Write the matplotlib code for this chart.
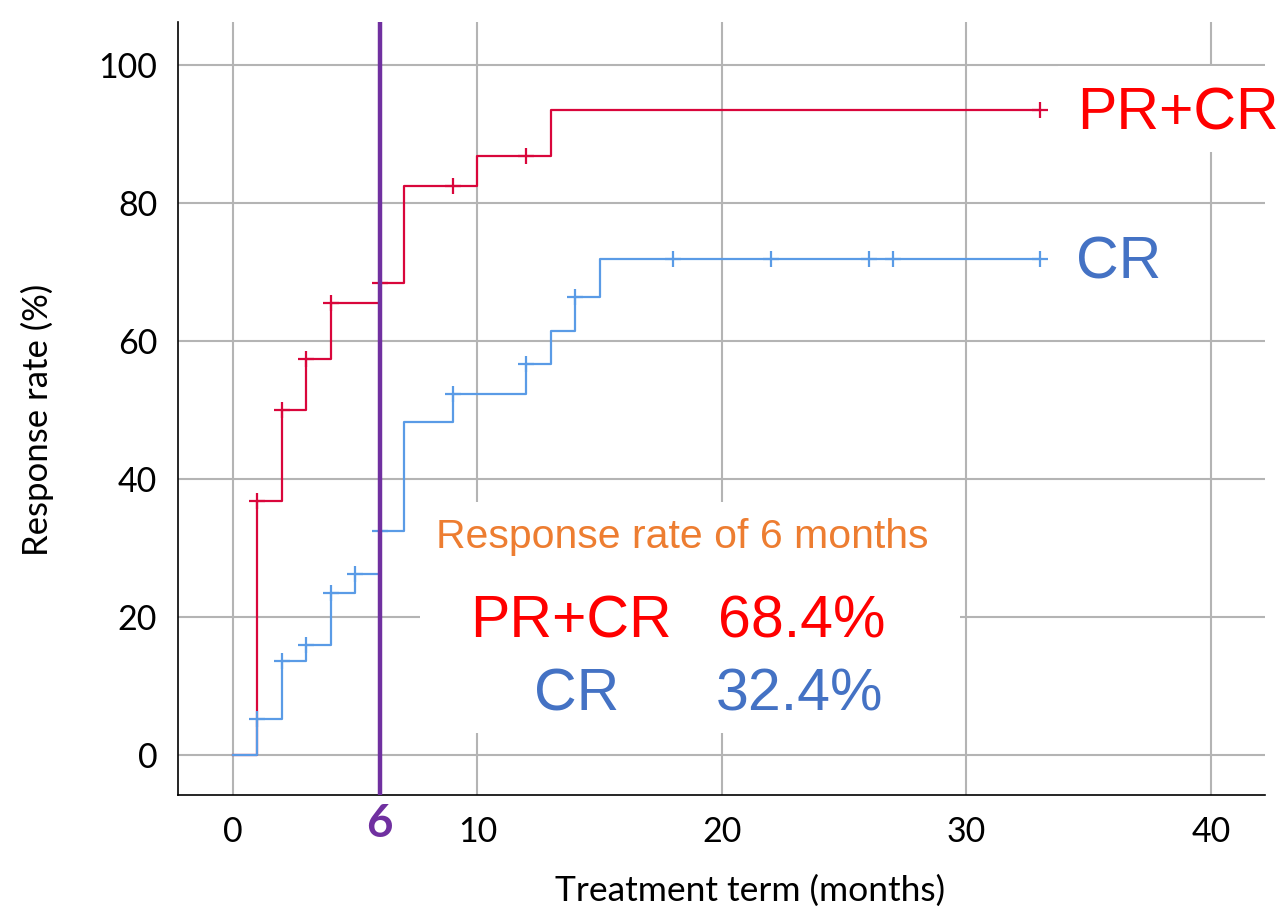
import matplotlib
matplotlib.use("Agg")
import matplotlib.pyplot as plt
from matplotlib.patches import Rectangle

# ---- data ----
pr_cr_times = [0, 1, 2, 3, 4, 6, 7, 10, 13, 33]
pr_cr_values = [0, 36.8, 50.0, 57.4, 65.5, 68.4, 82.4, 86.8, 93.4, 93.4]
pr_cr_censor_t = [1, 2, 3, 4, 6, 9, 12, 33]
pr_cr_censor_v = [36.8, 50.0, 57.4, 65.5, 68.4, 82.4, 86.8, 93.4]

cr_times = [0, 1, 2, 3, 4, 5, 6, 7, 9, 12, 13, 14, 15, 33]
cr_values = [0, 5.2, 13.6, 15.9, 23.4, 26.2, 32.4, 48.2, 52.3, 56.6, 61.5, 66.3, 71.9, 71.9]
cr_censor_t = [1, 2, 3, 4, 5, 6, 9, 12, 14, 18, 22, 26, 27, 33]
cr_censor_v = [5.2, 13.6, 15.9, 23.4, 26.2, 32.4, 52.3, 56.6, 66.3, 71.9, 71.9, 71.9, 71.9, 71.9]

x_ticks = [0, 10, 20, 30, 40]
y_ticks = [0, 20, 40, 60, 80, 100]
cutoff_month = 6
rate_pr_cr = "68.4%"
rate_cr = "32.4%"

RED_LINE = "#D9063B"
BLUE_LINE = "#5A9BE6"
RED_TXT = "#FF0000"
BLUE_TXT = "#4472C4"
ORANGE = "#ED7D31"
PURPLE = "#7030A0"
GRID = "#B4B4B4"

W, H = 1280, 910
fig = plt.figure(figsize=(12.8, 9.1), dpi=100)
ax = fig.add_axes([178 / W, 1 - 795 / H, (1265 - 178) / W, (795 - 22) / H])

ax.set_xlim(-2.25, 42.21)
ax.set_ylim(-5.8, 106.2)

ax.set_axisbelow(True)
ax.grid(True, color=GRID, linewidth=1.5)

for s in ["top", "right"]:
    ax.spines[s].set_visible(False)
for s in ["left", "bottom"]:
    ax.spines[s].set_color("black")
    ax.spines[s].set_linewidth(1.2)

tick_font = "Lato"
ax.set_xticks(x_ticks)
ax.set_yticks(y_ticks)
ax.set_xticklabels([str(v) for v in x_ticks], fontsize=24.5, family=tick_font)
ax.set_yticklabels([str(v) for v in y_ticks], fontsize=24.5, family=tick_font)
ax.tick_params(axis="both", length=0)
ax.tick_params(axis="x", pad=15)
ax.tick_params(axis="y", pad=15)

# white boxes behind texts
ax.add_patch(Rectangle((7.65, 3.2), 22.08, 33.5, facecolor="white",
                       edgecolor="none", zorder=1))
ax.add_patch(Rectangle((33.74, 87.4), 10, 12.4, facecolor="white",
                       edgecolor="none", zorder=1))

# curves
ax.step(pr_cr_times, pr_cr_values, where="post", color=RED_LINE, lw=1.6, zorder=3)
ax.step(cr_times, cr_values, where="post", color=BLUE_LINE, lw=1.6, zorder=3)
ax.plot(pr_cr_censor_t, pr_cr_censor_v, "+", color=RED_LINE, ms=11, mew=1.6, zorder=4)
ax.plot(cr_censor_t, cr_censor_v, "+", color=BLUE_LINE, ms=11, mew=1.6, zorder=4)

# 6-month line
ax.axvline(cutoff_month, color=PURPLE, lw=3.2, zorder=5)
ax.text(cutoff_month, -0.0375, str(cutoff_month), transform=ax.get_xaxis_transform(),
        ha="center", va="center", fontsize=33, fontweight="bold", color=PURPLE,
        family=tick_font)

# labels on right
ann = "Liberation Sans"
ax.text(34.52, 90.6, "PR+CR", color=RED_TXT, fontsize=42.5, family=ann,
        ha="left", va="baseline", zorder=6, clip_on=False)
ax.text(34.48, 69.1, "CR", color=BLUE_TXT, fontsize=42.5, family=ann,
        ha="left", va="baseline", zorder=6, clip_on=False)

# central annotation
ax.text(8.30, 30.0, "Response rate of 6 months", color=ORANGE, fontsize=29.5,
        family=ann, ha="left", va="baseline", zorder=6)
ax.text(9.69, 16.96, "PR+CR", color=RED_TXT, fontsize=42.5, family=ann,
        ha="left", va="baseline", zorder=6)
ax.text(19.84, 16.96, rate_pr_cr, color=RED_TXT, fontsize=42.5, family=ann,
        ha="left", va="baseline", zorder=6)
ax.text(12.31, 6.38, "CR", color=BLUE_TXT, fontsize=42.5, family=ann,
        ha="left", va="baseline", zorder=6)
ax.text(19.75, 6.38, rate_cr, color=BLUE_TXT, fontsize=42.5, family=ann,
        ha="left", va="baseline", zorder=6)

# axis titles
fig.text(750 / W, 1 - 907 / H, "Treatment term (months)", fontsize=25.5,
         family=tick_font, ha="center", va="bottom")
fig.text(37 / W, 1 - 420 / H, "Response rate (%)", fontsize=25,
         family=tick_font, ha="center", va="center", rotation=90)

fig.savefig("out.png", dpi=100)
